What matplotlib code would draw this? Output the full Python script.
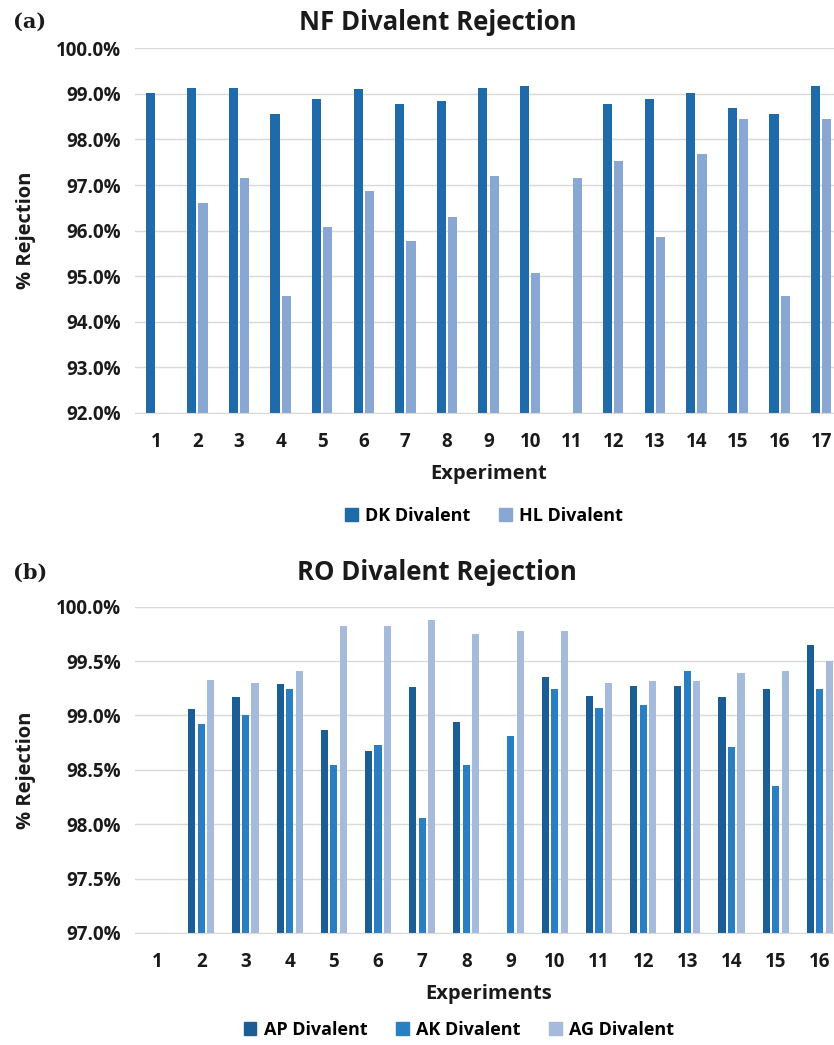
import matplotlib
matplotlib.use("Agg")
import matplotlib.pyplot as plt
from matplotlib.ticker import FuncFormatter
from matplotlib.patches import Patch
import numpy as np

# ---- data (a) NF ----
nf_experiments = [str(i) for i in range(1, 18)]
dk_divalent = [99.03, 99.14, 99.14, 98.55, 98.88, 99.10, 98.77, 98.84, 99.14, 99.17,
               np.nan, 98.77, 98.88, 99.03, 98.70, 98.55, 99.17]
hl_divalent = [np.nan, 96.61, 97.16, 94.57, 96.07, 96.87, 95.77, 96.29, 97.20, 95.08,
               97.16, 97.53, 95.85, 97.68, 98.44, 94.57, 98.44]
nf_yticks = [92, 93, 94, 95, 96, 97, 98, 99, 100]

# ---- data (b) RO ----
ro_experiments = [str(i) for i in range(1, 17)]
ap_divalent = [np.nan, 99.06, 99.17, 99.29, 98.87, 98.67, 99.26, 98.94, np.nan, 99.35,
               99.18, 99.27, 99.27, 99.17, 99.24, 99.65]
ak_divalent = [np.nan, 98.92, 99.00, 99.24, 98.54, 98.73, 98.06, 98.54, 98.81, 99.24,
               99.07, 99.10, 99.41, 98.71, 98.35, 99.24]
ag_divalent = [np.nan, 99.33, 99.30, 99.41, 99.82, 99.82, 99.88, 99.75, 99.78, 99.78,
               99.30, 99.32, 99.32, 99.39, 99.41, 99.50]
ro_yticks = [97.0, 97.5, 98.0, 98.5, 99.0, 99.5, 100.0]

FONT = "Open Sans"
plt.rcParams['font.family'] = [FONT, 'DejaVu Sans']

C_DK = "#1f6aa8"
C_HL = "#88a7d3"
C_AP = "#1b5e96"
C_AK = "#2a7fc2"
C_AG = "#a6badb"
GRID = "#d9d9d9"
TXT = "#1a1a1a"

fig = plt.figure(figsize=(8.34, 10.45), dpi=100)
W, H = 834, 1045

def px_axes(left, top, right, bottom):
    return fig.add_axes([left / W, 1 - bottom / H, (right - left) / W, (bottom - top) / H])

def style(ax, yticks, ymin, ymax, n):
    ax.set_ylim(ymin, ymax)
    ax.set_xlim(0.5, n + 0.5)
    ax.set_yticks(yticks)
    ax.yaxis.set_major_formatter(FuncFormatter(lambda v, p: f"{v:.1f}%"))
    ax.grid(axis='y', color=GRID, linewidth=1.0)
    ax.set_axisbelow(True)
    for s in ['top', 'right', 'left']:
        ax.spines[s].set_visible(False)
    ax.spines['bottom'].set_color(GRID)
    ax.tick_params(axis='y', length=0, labelsize=13.5, colors=TXT, pad=10)
    ax.tick_params(axis='x', length=0, labelsize=13.5, colors=TXT, pad=14)
    for lbl in ax.get_yticklabels() + ax.get_xticklabels():
        lbl.set_fontweight('bold')

# ---- panel (a) ----
ax1 = px_axes(135, 48.3, 842, 413)
x1 = np.arange(1, len(nf_experiments) + 1)
bw = 0.22
ax1.bar(x1 - 0.135, dk_divalent, width=bw, color=C_DK, label="DK Divalent")
ax1.bar(x1 + 0.135, hl_divalent, width=bw, color=C_HL, label="HL Divalent")
ax1.set_xticks(x1)
ax1.set_xticklabels(nf_experiments)
style(ax1, nf_yticks, 92, 100, len(nf_experiments))
ax1.set_ylabel("% Rejection", fontsize=14.5, fontweight='bold', color=TXT)
ax1.yaxis.set_label_coords(-0.140, 0.5)
ax1.set_xlabel("Experiment", fontsize=14.5, fontweight='bold', color=TXT, labelpad=8)
fig.text(438 / W, 1 - 23 / H, "NF Divalent Rejection", ha='center', va='center',
         fontsize=18.5, fontweight='bold', color=TXT)
fig.text(13 / W, 1 - 22 / H, "(a)", ha='left', va='center', fontsize=15,
         fontweight='bold', family='DejaVu Serif', color=TXT)
h = [Patch(color=C_DK), Patch(color=C_HL)]
fig.legend(h, ["DK Divalent", "HL Divalent"], loc='center', bbox_to_anchor=(484 / W, 1 - 516 / H),
           ncol=2, frameon=False, prop={'family': FONT, 'weight': 'bold', 'size': 13},
           handlelength=0.7, handleheight=0.7, handletextpad=0.4, columnspacing=1.6)

# ---- panel (b) ----
ax2 = px_axes(135, 606.7, 842, 933)
x2 = np.arange(1, len(ro_experiments) + 1)
bw2 = 0.16
ax2.bar(x2 - 0.215, ap_divalent, width=bw2, color=C_AP, label="AP Divalent")
ax2.bar(x2, ak_divalent, width=bw2, color=C_AK, label="AK Divalent")
ax2.bar(x2 + 0.215, ag_divalent, width=bw2, color=C_AG, label="AG Divalent")
ax2.set_xticks(x2)
ax2.set_xticklabels(ro_experiments)
style(ax2, ro_yticks, 97, 100, len(ro_experiments))
ax2.set_ylabel("% Rejection", fontsize=14.5, fontweight='bold', color=TXT)
ax2.yaxis.set_label_coords(-0.140, 0.5)
ax2.set_xlabel("Experiments", fontsize=14.5, fontweight='bold', color=TXT, labelpad=8)
fig.text(437 / W, 1 - 573 / H, "RO Divalent Rejection", ha='center', va='center',
         fontsize=18.5, fontweight='bold', color=TXT)
fig.text(13 / W, 1 - 573 / H, "(b)", ha='left', va='center', fontsize=15,
         fontweight='bold', family='DejaVu Serif', color=TXT)
h2 = [Patch(color=C_AP), Patch(color=C_AK), Patch(color=C_AG)]
fig.legend(h2, ["AP Divalent", "AK Divalent", "AG Divalent"], loc='center',
           bbox_to_anchor=(459 / W, 1 - 1030 / H), ncol=3, frameon=False,
           prop={'family': FONT, 'weight': 'bold', 'size': 13},
           handlelength=0.7, handleheight=0.7, handletextpad=0.4, columnspacing=1.6)

fig.savefig("out.png", dpi=100)
